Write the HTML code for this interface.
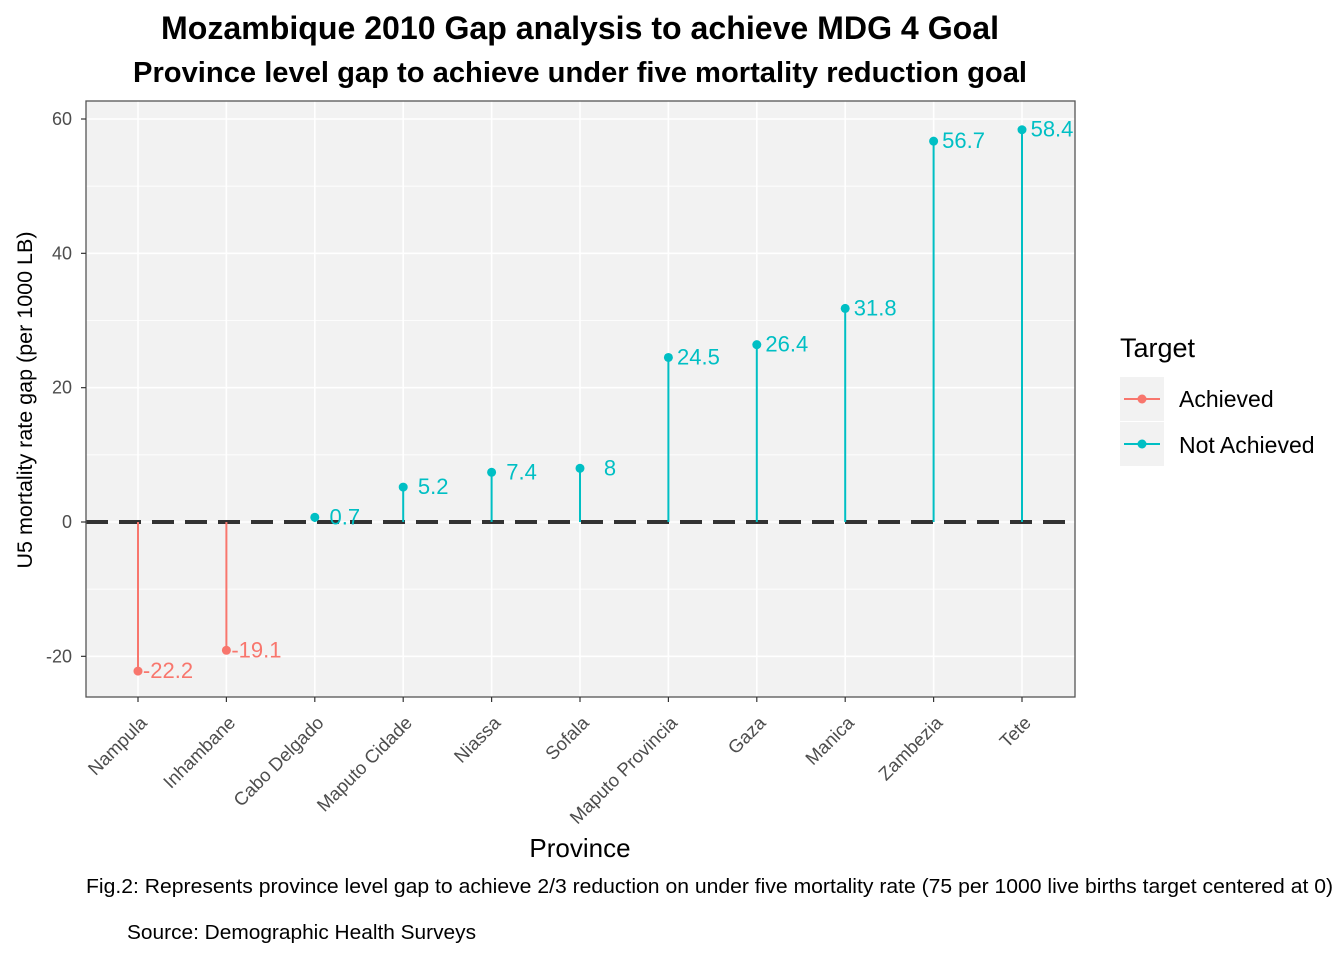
<!DOCTYPE html>
<html><head><meta charset="utf-8"><style>
body{margin:0;background:#fff;width:1344px;height:960px;overflow:hidden;font-family:"Liberation Sans",sans-serif}
</style></head><body>
<svg id="chart" width="1344" height="960" style="font-family:'Liberation Sans',sans-serif">
<text x="161" y="39" textLength="838" lengthAdjust="spacingAndGlyphs" font-size="32" font-weight="bold">Mozambique 2010 Gap analysis to achieve MDG 4 Goal</text>
<text x="133" y="82" textLength="894" lengthAdjust="spacingAndGlyphs" font-size="28.5" font-weight="bold">Province level gap to achieve under five mortality reduction goal</text>
<rect x="86" y="101" width="989" height="596" fill="#f2f2f2"/>
<g id="grid"></g>
<g id="marks"></g>
<rect x="86" y="101" width="989" height="596" fill="none" stroke="#555" stroke-width="1.3"/>
<g id="axes"></g>
<text x="580" y="857" text-anchor="middle" font-size="26">Province</text>
<text transform="translate(32,400) rotate(-90)" text-anchor="middle" font-size="21.5">U5 mortality rate gap (per 1000 LB)</text>
<g>
<text x="1120" y="357" font-size="27">Target</text>
<g>
<rect x="1120" y="377" width="44" height="44" fill="#f2f2f2"/>
<line x1="1124" y1="399" x2="1160" y2="399" stroke="#F8766D" stroke-width="2"/>
<circle cx="1142" cy="399" r="4.5" fill="#F8766D"/>
<text x="1179" y="407" font-size="23">Achieved</text></g>
<g>
<rect x="1120" y="422" width="44" height="44" fill="#f2f2f2"/>
<line x1="1124" y1="444" x2="1160" y2="444" stroke="#00BFC4" stroke-width="2"/>
<circle cx="1142" cy="444" r="4.5" fill="#00BFC4"/>
<text x="1179" y="453" font-size="23">Not Achieved</text></g>
</g>
<text x="86" y="893" textLength="1247" lengthAdjust="spacingAndGlyphs" font-size="20.5">Fig.2: Represents province level gap to achieve 2/3 reduction on under five mortality rate (75 per 1000 live births target centered at 0)</text>
<text x="127" y="939" textLength="349" lengthAdjust="spacingAndGlyphs" font-size="20.5">Source: Demographic Health Surveys</text>
</svg>
<script>
const categories=["Nampula","Inhambane","Cabo Delgado","Maputo Cidade","Niassa","Sofala","Maputo Provincia","Gaza","Manica","Zambezia","Tete"];
const values=[-22.2,-19.1,0.7,5.2,7.4,8,24.5,26.4,31.8,56.7,58.4];
const labels=["-22.2","-19.1","0.7","5.2","7.4","8","24.5","26.4","31.8","56.7","58.4"];
const yTicks=[-20,0,20,40,60];
const yMinor=[-10,10,30,50];
const NS="http://www.w3.org/2000/svg";
const y=v=>522-v*(403/60);
const x=i=>138+i*88.4;
function mk(t,a,p){const e=document.createElementNS(NS,t);for(const k in a)e.setAttribute(k,a[k]);p.appendChild(e);return e;}
const grid=document.getElementById('grid'),marks=document.getElementById('marks'),axes=document.getElementById('axes');
yMinor.forEach(v=>{const l=mk('line',{x1:86,x2:1075,y1:y(v),y2:y(v),stroke:'#fff','stroke-width':0.8},grid);

});
yTicks.forEach(v=>{const l=mk('line',{x1:86,x2:1075,y1:y(v),y2:y(v),stroke:'#fff','stroke-width':1.6},grid);


mk('line',{x1:81,x2:86,y1:y(v),y2:y(v),stroke:'#333','stroke-width':1.2},axes);
const t=mk('text',{x:72,y:y(v)+6,'text-anchor':'end','font-size':18,fill:'#4d4d4d'},axes);t.textContent=v;

});
categories.forEach((c,i)=>{const l=mk('line',{x1:x(i),x2:x(i),y1:101,y2:697,stroke:'#fff','stroke-width':1.6},grid);


mk('line',{x1:x(i),x2:x(i),y1:697,y2:702,stroke:'#333','stroke-width':1.2},axes);
const t=mk('text',{x:0,y:0,'text-anchor':'end','font-size':18.5,fill:'#4d4d4d',transform:`translate(${x(i)+10},${724}) rotate(-45)`},axes);t.textContent=c;

});
const dl=mk('line',{x1:86,x2:1075,y1:y(0),y2:y(0),stroke:'#333','stroke-width':4,'stroke-dasharray':'22 11'},marks);


values.forEach((v,i)=>{const col=v<0?'#F8766D':'#00BFC4';
const g=mk('g',{},marks);


mk('line',{x1:x(i),x2:x(i),y1:y(0),y2:y(v),stroke:col,'stroke-width':2},g);
mk('circle',{cx:x(i),cy:y(v),r:4.5,fill:col},g);
const t=mk('text',{x:x(i)+30,y:y(v)+7,'text-anchor':'middle','font-size':22,fill:col},g);t.textContent=labels[i];});
</script>
</body></html>
